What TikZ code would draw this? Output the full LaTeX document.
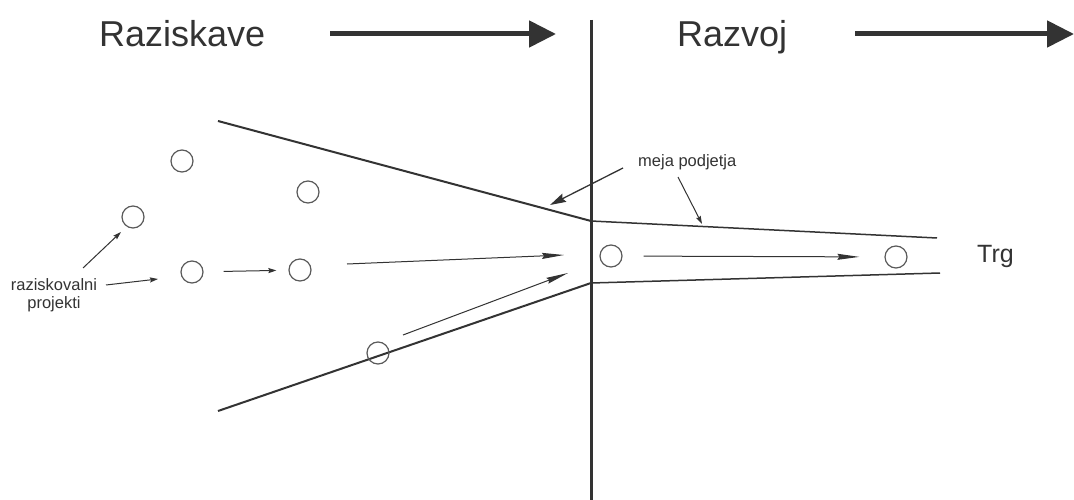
\documentclass[tikz,border=0pt]{standalone}
\usepackage{fontspec}
\setmainfont{Liberation Sans}
\usetikzlibrary{arrows.meta}
\definecolor{ink}{HTML}{333333}
\definecolor{ring}{HTML}{5a5a5a}
\begin{document}
\begin{tikzpicture}[x=1pt,y=-1pt,
  phase/.style={text=ink,inner sep=0pt,anchor=base west,font=\fontsize{36}{43}\selectfont},
  label/.style={text=ink,inner sep=0pt,font=\fontsize{16.5}{18}\selectfont},
  bigarrow/.style={draw=ink,line width=5pt,-{Triangle[length=27pt,width=26pt]}},
  flow/.style={draw=ink,line width=1pt,-{Stealth[length=22pt,width=6pt,inset=2pt]}},
  pointer/.style={draw=ink,line width=1pt,-{Stealth[length=8pt,width=5pt,inset=1pt]}},
  border/.style={draw=ink,line width=2pt},
  market/.style={draw=ink,line width=1.5pt},
  project/.style={circle,draw=ring,line width=1.2pt,minimum size=22pt,inner sep=0pt},
]
\useasboundingbox (0,0) rectangle (1074,500);
\fill[white] (0,0) rectangle (1074,500);

% phase headings and direction arrows
\node[phase] (res) at (99,47) {Raziskave};
\node[phase] (dev) at (677,47) {Razvoj};
\coordinate (r1) at (330,34); \coordinate (r2) at (556,34);
\coordinate (d1) at (855,34); \coordinate (d2) at (1074,34);
\draw[bigarrow] (r1) -- (r2);
\draw[bigarrow] (d1) -- (d2);

% boundary between the phases
\coordinate (vtop) at (591,20);
\coordinate (vbot) at (591,500);
\draw[draw=ink,line width=3pt] (vtop) -- (vbot);

% funnel
\coordinate (ul) at (218,121); \coordinate (um) at (591,221); \coordinate (ur) at (937,238);
\coordinate (ll) at (218,411); \coordinate (lm) at (591,283); \coordinate (lr) at (940,273);
\draw[border] (ul) -- (um);
\draw[border] (ll) -- (lm);
\draw[market] (um) -- (ur);
\draw[market] (lm) -- (lr);

% projects
\node[project] (c1) at (182,161) {};
\node[project] (c2) at (308,192) {};
\node[project] (c3) at (133,217) {};
\node[project] (c4) at (192,272) {};
\node[project] (c5) at (300,270) {};
\node[project] (c6) at (378,353) {};
\node[project] (c7) at (611,256) {};
\node[project] (c8) at (896,257) {};

% labels
\node[label,align=center,anchor=north] (rp) at (54,278) {raziskovalni\\projekti};
\node[label,anchor=base west] (mp) at (638,167) {meja podjetja};
\node[text=ink,inner sep=0pt,anchor=base west,font=\fontsize{25}{30}\selectfont] (trg) at (977,262) {Trg};

% flow of projects
\coordinate (p1) at (83,268);  \coordinate (p2) at (121,232);
\coordinate (p3) at (106,285); \coordinate (p4) at (158,279);
\draw[pointer] (p1) -- (p2);
\draw[pointer] (p3) -- (p4);
\draw[pointer,shorten <=20pt,shorten >=12pt] (c4) -- (c5);
\coordinate (f1) at (347,264); \coordinate (f2) at (564,255);
\coordinate (f3) at (403,335); \coordinate (f4) at (568,273);
\draw[flow] (f1) -- (f2);
\draw[flow] (f3) -- (f4);
\draw[flow,shorten <=21pt,shorten >=25pt] (c7) -- (c8);

% pointers to the company border
\coordinate (m1) at (623,168); \coordinate (m2) at (550,205);
\coordinate (m3) at (678,177); \coordinate (m4) at (702,224);
\draw[draw=ink,line width=1.3pt,-{Stealth[length=16pt,width=9pt,inset=2pt]}] (m1) -- (m2);
\draw[pointer] (m3) -- (m4);
\end{tikzpicture}
\end{document}
